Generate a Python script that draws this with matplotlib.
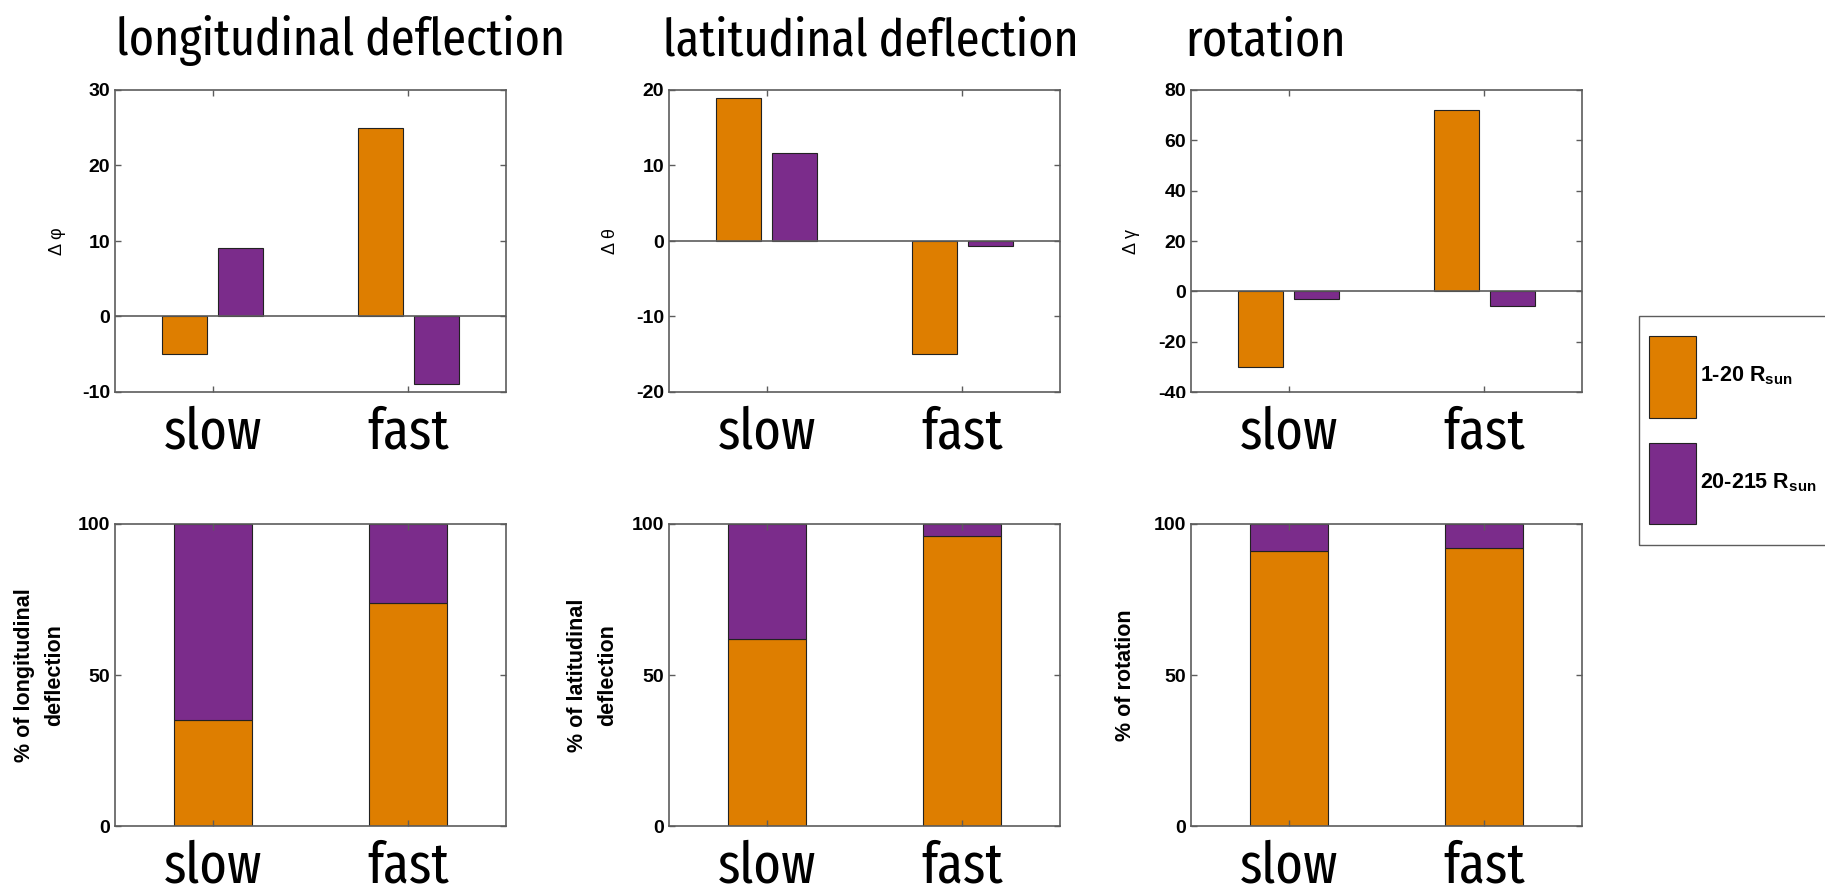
import matplotlib
matplotlib.use("Agg")
import matplotlib.pyplot as plt
import numpy as np
from matplotlib.patches import Patch, Rectangle
from matplotlib.transforms import Bbox, TransformedBbox

# wind regimes and the two radial ranges
regimes = ["slow", "fast"]
range_labels = ["1-20 R$_{\\mathbf{sun}}$", "20-215 R$_{\\mathbf{sun}}$"]

# change accumulated in each radial range [slow, fast]
dphi_inner = [-5.0, 25.0]
dphi_outer = [9.1, -9.0]
dtheta_inner = [19.0, -15.0]
dtheta_outer = [11.6, -0.7]
dgamma_inner = [-30.0, 72.0]
dgamma_outer = [-3.0, -6.0]

# share of the total change from the inner range, percent [slow, fast]
pct_lon_inner = [35.0, 74.0]
pct_lat_inner = [62.0, 96.0]
pct_rot_inner = [91.0, 92.0]

titles = ["longitudinal deflection", "latitudinal deflection", "rotation"]
top_ylabels = ["\u0394 \u03c6", "\u0394 \u03b8", "\u0394 \u03b3"]
bottom_ylabels = ["% of longitudinal\ndeflection", "% of latitudinal\ndeflection", "% of rotation"]
top_limits = [(-10, 30), (-20, 20), (-40, 80)]
top_ticks = [[-10, 0, 10, 20, 30], [-20, -10, 0, 10, 20], [-40, -20, 0, 20, 40, 60, 80]]

ORANGE = "#de7e00"
PURPLE = "#7b2c8b"
AXCOL = "#5c5c5c"
EDGE = "#222222"
NARROW = ["Fira Sans Extra Condensed", "Fira Sans Condensed", "Liberation Sans", "DejaVu Sans"]

plt.rcParams["font.family"] = ["Liberation Sans", "DejaVu Sans"]
plt.rcParams["axes.unicode_minus"] = False
plt.rcParams["mathtext.fontset"] = "custom"
plt.rcParams["mathtext.rm"] = "Liberation Sans"
plt.rcParams["mathtext.bf"] = "Liberation Sans:bold"

fig = plt.figure(figsize=(18.25, 8.96), dpi=100)
W, H = 1825.0, 896.0
col_left = [115, 669, 1191]
ax_w = 391
top_y = (90, 392)
bot_y = (524, 826)

x = np.arange(1, len(regimes) + 1)
off = 0.143
bw = 0.23


def style(ax):
    for s in ax.spines.values():
        s.set_color(AXCOL)
        s.set_linewidth(1.2)
    ax.tick_params(direction="in", length=4, top=True, right=True, color=AXCOL,
                   width=1.0, labelsize=14)
    for lab in ax.get_yticklabels():
        lab.set_fontweight("bold")
    ax.set_xlim(0.5, 2.5)
    ax.set_xticks(x)
    ax.set_xticklabels(regimes, fontsize=41, family=NARROW, fontweight="normal")
    ax.tick_params(axis="x", pad=9.5)


top_data = [(dphi_inner, dphi_outer), (dtheta_inner, dtheta_outer), (dgamma_inner, dgamma_outer)]
pct_data = [pct_lon_inner, pct_lat_inner, pct_rot_inner]
top_lab_x = [-0.125, -0.128, -0.13]
bot_lab_x = [-0.128, -0.13, -0.14]

# lowest tick label of the top row is cut just below the axes
cut = TransformedBbox(Bbox([[0, 1 - 398 / H], [1, 1]]), fig.transFigure)

for i in range(3):
    left = col_left[i] / W
    ax = fig.add_axes([left, 1 - top_y[1] / H, ax_w / W, (top_y[1] - top_y[0]) / H])
    inner, outer = top_data[i]
    ax.bar(x - off, inner, bw, color=ORANGE, edgecolor=EDGE, linewidth=0.8)
    ax.bar(x + off, outer, bw, color=PURPLE, edgecolor=EDGE, linewidth=0.8)
    ax.axhline(0, color=AXCOL, lw=1.2)
    ax.set_ylim(*top_limits[i])
    ax.set_yticks(top_ticks[i])
    style(ax)
    if i > 0:
        low = ax.get_yticklabels()[0]
        low.set_clip_on(True)
        low.set_clip_box(cut)
    ax.set_ylabel(top_ylabels[i], fontsize=13)
    ax.yaxis.set_label_coords(top_lab_x[i], 0.5)

    axb = fig.add_axes([left, 1 - bot_y[1] / H, ax_w / W, (bot_y[1] - bot_y[0]) / H])
    pct = np.array(pct_data[i])
    axb.bar(x, pct, 0.4, color=ORANGE, edgecolor=EDGE, linewidth=0.8)
    axb.bar(x, 100 - pct, 0.4, bottom=pct, color=PURPLE, edgecolor=EDGE, linewidth=0.8)
    axb.set_ylim(0, 100)
    axb.set_yticks([0, 50, 100])
    style(axb)
    axb.set_ylabel(bottom_ylabels[i], fontsize=15.5, fontweight="bold", linespacing=1.55)
    axb.yaxis.set_label_coords(bot_lab_x[i], 0.5)

title_x = [116, 663, 1185]
for i, t in enumerate(titles):
    fig.text(title_x[i] / W, 1 - 55 / H, t, fontsize=37.5, family=NARROW,
             fontweight="normal", ha="left", va="baseline")

# legend frame runs off the right edge of the figure
fig.patches.append(Rectangle((1639 / W, 1 - 545 / H), 220 / W, 229 / H,
                             transform=fig.transFigure, fill=False,
                             edgecolor=AXCOL, linewidth=1.0))
handles = [Patch(facecolor=ORANGE, edgecolor=EDGE, linewidth=0.8),
           Patch(facecolor=PURPLE, edgecolor=EDGE, linewidth=0.8)]
fig.legend(handles, range_labels, loc="upper left",
           bbox_to_anchor=(1649 / W, 1 - 336 / H),
           prop={"size": 15.5, "weight": "bold"}, handlelength=2.18, handleheight=5.45,
           labelspacing=1.17, handletextpad=0.18, borderpad=0, borderaxespad=0,
           frameon=False)

fig.savefig("out.png", dpi=100)
